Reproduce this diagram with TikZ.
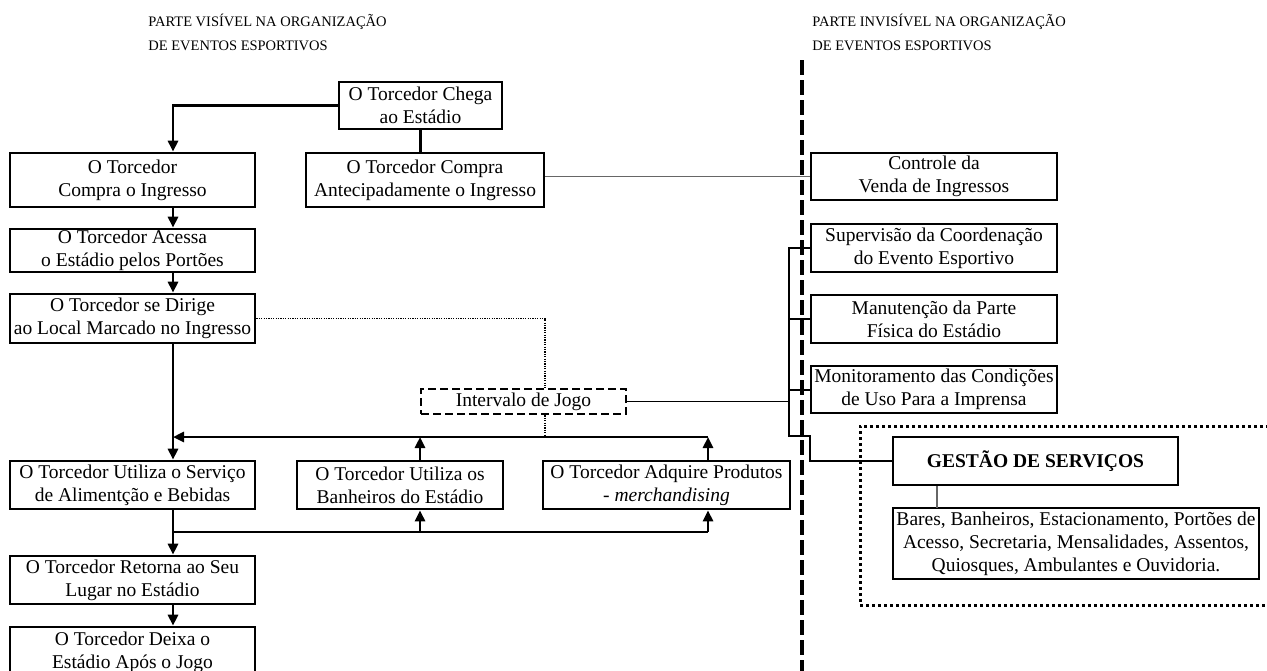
\documentclass[tikz,border=0pt]{standalone}
\usepackage{fontspec}
\setmainfont{Liberation Serif}
\usetikzlibrary{arrows.meta}

\tikzset{
  box/.style={draw, line width=1.3pt, align=center, inner sep=0pt, fill=white,
    font=\fontsize{9.75pt}{11.5pt}\selectfont},
  boxsize/.style 2 args={minimum width=#1*0.5pt, minimum height=#2*0.5pt},
  head/.style={align=left, inner sep=0pt, anchor=west,
    font=\fontsize{7.25pt}{12pt}\selectfont},
  flow/.style={line width=1.3pt},
  link/.style={line width=0.8pt, black!60},
  bus/.style={line width=1pt},
  dotline/.style={line width=0.9pt, dash pattern=on 0.6pt off 0.6pt},
  divider/.style={line width=1.8pt, dash pattern=on 7.5pt off 2.5pt},
  dotbox/.style={line width=1.5pt, dash pattern=on 1.5pt off 1.5pt}
}

\begin{document}
\begin{tikzpicture}[x=0.5pt, y=-0.5pt, >={Triangle[length=5.5pt,width=5pt]}]

    \clip (0,0) rectangle (1267,670);

    \node[head] (hvis) at (148,32) {PARTE VISÍVEL NA ORGANIZAÇÃO\\DE EVENTOS ESPORTIVOS};
    \node[head] (hinv) at (812,32) {PARTE INVISÍVEL NA ORGANIZAÇÃO\\DE EVENTOS ESPORTIVOS};

    % parte visivel
    \node[box, boxsize={163}{47}] (chega) at (420.5,105.5) {O Torcedor Chega\\ao Estádio};
    \node[box, boxsize={245}{54}] (compra) at (132.5,180) {O Torcedor\\Compra o Ingresso};
    \node[box, boxsize={238}{54}] (antecip) at (425,180) {O Torcedor Compra\\Antecipadamente o Ingresso};
    \node[box, boxsize={245}{43}] (acessa) at (132.5,250.5) {O Torcedor Acessa\\o Estádio pelos Portões};
    \node[box, boxsize={245}{49}] (dirige) at (132.5,318.5) {O Torcedor se Dirige\\ao Local Marcado no Ingresso};
    \node[box, boxsize={245}{48}] (servico) at (132.5,485) {O Torcedor Utiliza o Serviço\\de Alimentção e Bebidas};
    \node[box, boxsize={245}{48}] (retorna) at (132.5,580) {O Torcedor Retorna ao Seu\\Lugar no Estádio};
    \node[box, boxsize={245}{50}] (deixa) at (132.5,652) {O Torcedor Deixa o\\Estádio Após o Jogo};
    \node[box, boxsize={206}{48}] (banheiros) at (400,485) {O Torcedor Utiliza os\\Banheiros do Estádio};
    \node[box, boxsize={247}{48}] (adquire) at (666.5,485) {O Torcedor Adquire Produtos\\- \textit{merchandising}};
    \node[box, boxsize={205}{25}, dash pattern=on 4pt off 2pt] (intervalo) at (523.5,401.5) {Intervalo de Jogo};

    % parte invisivel
    \node[box, boxsize={246}{47}] (controle) at (934,176.5) {Controle da\\Venda de Ingressos};
    \node[box, boxsize={246}{48}] (supervisao) at (934,248) {Supervisão da Coordenação\\do Evento Esportivo};
    \node[box, boxsize={246}{48}] (manutencao) at (934,319) {Manutenção da Parte\\Física do Estádio};
    \node[box, boxsize={246}{47}] (monitor) at (934,389.5) {Monitoramento das Condições\\de Uso Para a Imprensa};
    \node[box, boxsize={285}{48}] (gestao) at (1035.5,461) {\textbf{GESTÃO DE SERVIÇOS}};
    \node[box, boxsize={366}{71}] (bares) at (1076,543.5) {Bares, Banheiros, Estacionamento, Portões de\\Acesso, Secretaria, Mensalidades, Assentos,\\Quiosques, Ambulantes e Ouvidoria.};

    \coordinate (spine) at (173,0);
    \coordinate (topbus) at (173,437);
    \coordinate (botbus) at (173,532);
    \coordinate (up1) at (420,437);
    \coordinate (up2) at (708,437);
    \coordinate (dv) at (545,437);
    \coordinate (brk) at (789,0);
    \coordinate (gb) at (937,508);

    \draw[flow,->] (chega.west) -| (compra.north -| spine);
    \draw[flow] (chega.south) -- (chega.south |- antecip.north);
    \draw[link] (controle.west -| antecip.east) -- (controle.west);

    \draw[flow,->] (compra.south -| spine) -- (acessa.north -| spine);
    \draw[flow,->] (acessa.south -| spine) -- (dirige.north -| spine);
    \draw[flow,->] (dirige.south -| spine) -- (servico.north -| spine);
    \draw[flow,->] (servico.south -| spine) -- (retorna.north -| spine);
    \draw[flow,->] (retorna.south -| spine) -- (deixa.north -| spine);

    % volta ao servico de alimentacao
    \draw[flow,->] (up2) -- (topbus);
    \draw[flow,->] (banheiros.north -| up1) -- (up1);
    \draw[flow,->] (adquire.north -| up2) -- (up2);
    \draw[flow] (botbus) -- (botbus -| up2);
    \draw[flow,->] (botbus -| up1) -- (banheiros.south -| up1);
    \draw[flow,->] (botbus -| up2) -- (adquire.south -| up2);

    \draw[dotline] (dirige.east) -| (intervalo.north -| dv);
    \draw[dotline] (intervalo.south -| dv) -- (dv);
    \draw[line width=0.6pt] (intervalo.east) -- (intervalo.east -| brk);

    \draw[bus] (supervisao.west) -- (supervisao.west -| brk) |- (gestao.north -| supervisao.west) |- (gestao.west);
    \draw[bus] (manutencao.west) -- (manutencao.west -| brk);
    \draw[bus] (monitor.west) -- (monitor.west -| brk);
    \draw[link] (gestao.south -| gb) -- (gb);

    \draw[dotbox] (1275,426) -| (860,605) -- (1275,605);
    \draw[divider] (802,60) -- (802,675);

\end{tikzpicture}
\end{document}
